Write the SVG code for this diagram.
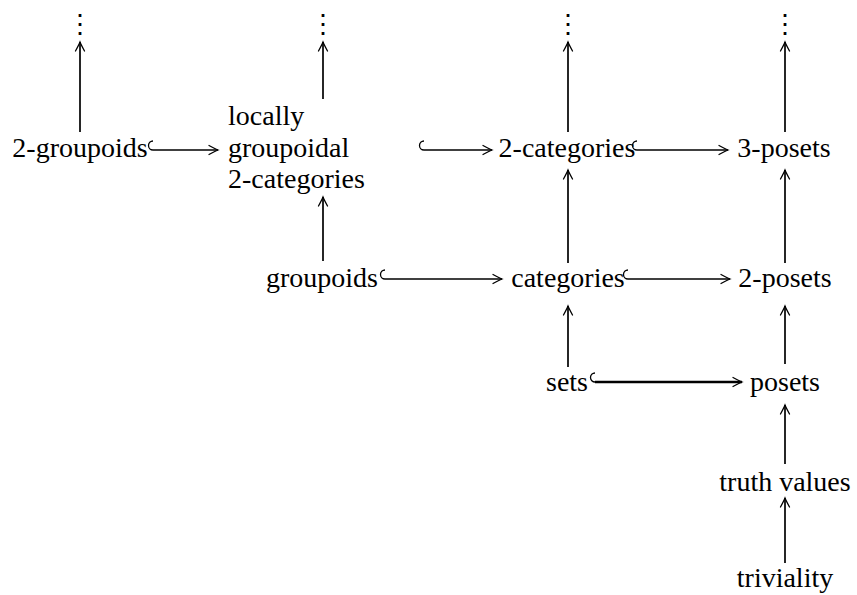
<svg xmlns="http://www.w3.org/2000/svg" width="857" height="595" viewBox="0 0 857 595">
<style>
  .lbl { font-size: 28px; fill: #000; }
  .dt { font-size: 26px; fill: #000; }
  .mid { text-anchor: middle; }
  .edge { stroke: #000; stroke-width: 1.7; fill: none; marker-end: url(#tip); }
  .hook { stroke: #000; stroke-width: 1.3; fill: none; }
</style>
<defs>
  <marker id="tip" markerUnits="userSpaceOnUse" markerWidth="14" markerHeight="14" viewBox="-12 -7 14 14" refX="0" refY="0" orient="auto" overflow="visible">
    <path d="M -9,-4.5 Q -3,-1.2 0,0 Q -3,1.2 -9,4.5" fill="none" stroke="#000" stroke-width="1.3" stroke-linecap="round"/>
  </marker>
</defs>
<rect width="857" height="595" fill="#fff"/>

<g id="n-2groupoids"><text class="lbl mid" x="80" y="157" font-family="Liberation Serif">2-groupoids</text></g>
<g id="n-locgrp">
  <text class="lbl" x="228" y="125" font-family="Liberation Serif">locally</text>
  <text class="lbl" x="228" y="157" font-family="Liberation Serif">groupoidal</text>
  <text class="lbl" x="228" y="188" font-family="Liberation Serif">2-categories</text>
</g>
<g id="n-2categories"><text class="lbl mid" x="567" y="157" font-family="Liberation Serif">2-categories</text></g>
<g id="n-3posets"><text class="lbl mid" x="784" y="157" font-family="Liberation Serif">3-posets</text></g>
<g id="n-groupoids"><text class="lbl mid" x="322" y="287" font-family="Liberation Serif">groupoids</text></g>
<g id="n-categories"><text class="lbl mid" x="568" y="287" font-family="Liberation Serif">categories</text></g>
<g id="n-2posets"><text class="lbl mid" x="785" y="287" font-family="Liberation Serif">2-posets</text></g>
<g id="n-sets"><text class="lbl mid" x="567" y="391" font-family="Liberation Serif">sets</text></g>
<g id="n-posets"><text class="lbl mid" x="785" y="391" font-family="Liberation Serif">posets</text></g>
<g id="n-truth"><text class="lbl mid" x="785" y="491" font-family="Liberation Serif">truth values</text></g>
<g id="n-triviality"><text class="lbl mid" x="785" y="587" font-family="Liberation Serif">triviality</text></g>

<g id="dots1"><text class="dt mid" x="80" y="33" font-family="DejaVu Serif">⋮</text></g>
<g id="dots2"><text class="dt mid" x="323" y="33" font-family="DejaVu Serif">⋮</text></g>
<g id="dots3"><text class="dt mid" x="568" y="33" font-family="DejaVu Serif">⋮</text></g>
<g id="dots4"><text class="dt mid" x="785" y="33" font-family="DejaVu Serif">⋮</text></g>

<g id="connectors">
  <line class="edge" x1="80" y1="132" x2="80" y2="42"/>
  <line class="edge" x1="323" y1="99" x2="323" y2="42"/>
  <line class="edge" x1="568" y1="132" x2="568" y2="42"/>
  <line class="edge" x1="785" y1="132" x2="785" y2="42"/>
  <line class="edge" x1="323" y1="261" x2="323" y2="197"/>
  <line class="edge" x1="568" y1="263" x2="568" y2="170"/>
  <line class="edge" x1="785" y1="263" x2="785" y2="170"/>
  <line class="edge" x1="568" y1="367" x2="568" y2="306"/>
  <line class="edge" x1="785" y1="364" x2="785" y2="306"/>
  <line class="edge" x1="785" y1="464" x2="785" y2="405"/>
  <line class="edge" x1="785" y1="563" x2="785" y2="498"/>

  <path class="hook" d="M 153,150 A 4.5,4.5 0 0 1 153,141"/>
  <line class="edge" x1="153" y1="150" x2="218" y2="150"/>
  <path class="hook" d="M 424,150 A 4.5,4.5 0 0 1 424,141"/>
  <line class="edge" x1="424" y1="150" x2="492" y2="150"/>
  <path class="hook" d="M 637,150 A 4.5,4.5 0 0 1 637,141"/>
  <line class="edge" x1="637" y1="150" x2="728" y2="150"/>
  <path class="hook" d="M 385,279 A 4.5,4.5 0 0 1 385,270"/>
  <line class="edge" x1="385" y1="279" x2="502" y2="279"/>
  <path class="hook" d="M 628,279 A 4.5,4.5 0 0 1 628,270"/>
  <line class="edge" x1="628" y1="279" x2="730" y2="279"/>
  <path class="hook" d="M 595,382 A 4.5,4.5 0 0 1 595,373"/>
  <line class="edge" x1="595" y1="382" x2="742" y2="382" style="stroke-width:2.6"/>
</g>
</svg>
